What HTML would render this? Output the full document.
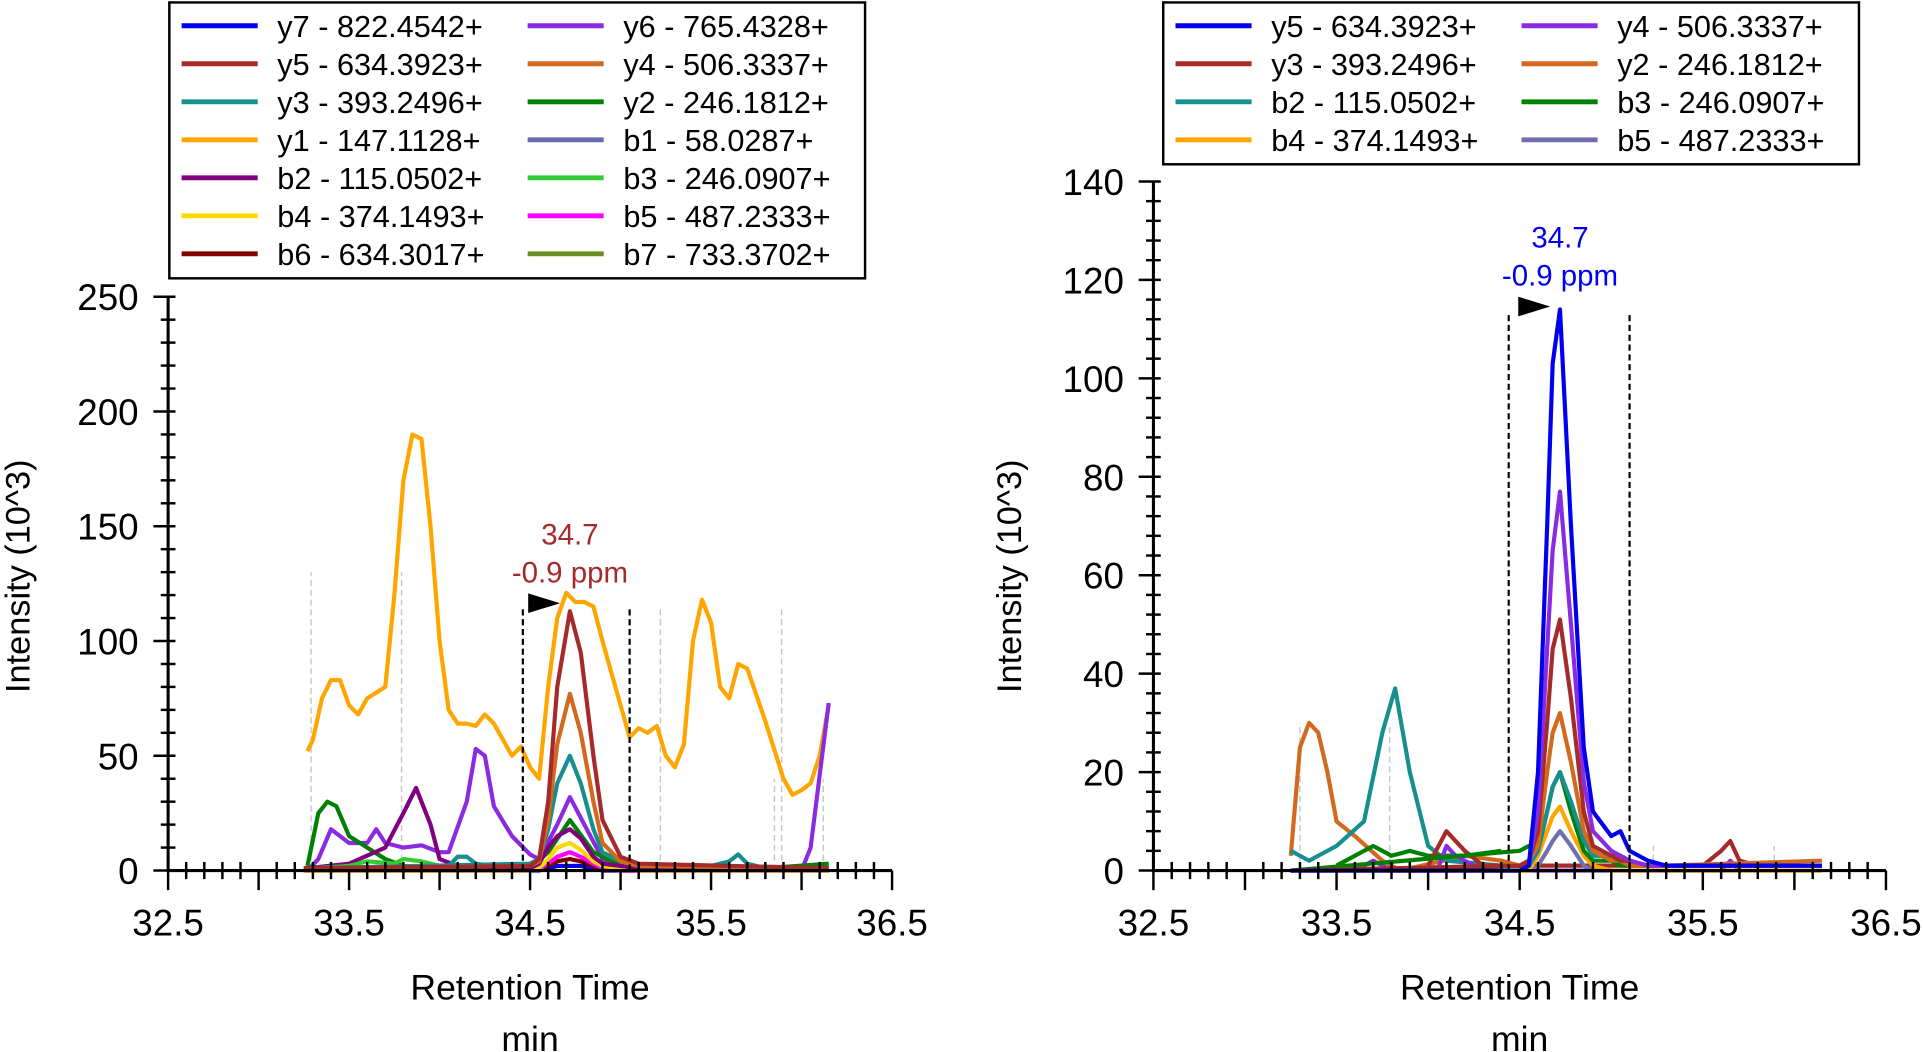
<!DOCTYPE html>
<html><head><meta charset="utf-8"><style>
html,body{margin:0;padding:0;background:#fff;}
svg{display:block;font-family:"Liberation Sans",Arial,sans-serif;}
</style></head><body>
<svg id="c" width="1924" height="1052" viewBox="0 0 1568 858" preserveAspectRatio="none" xmlns="http://www.w3.org/2000/svg"></svg>
<script>
// ---------- LEFT CHART DATA ----------
const L_y1_t=[33.27,33.3,33.35,33.4,33.45,33.5,33.55,33.6,33.7,33.75,33.8,33.85,33.9,33.95,34.0,34.05,34.1,34.15,34.2,34.25,34.3,34.35,34.4,34.45,34.5,34.55,34.6,34.65,34.7,34.75,34.8,34.85,34.9,35.0,35.05,35.1,35.15,35.2,35.25,35.3,35.35,35.4,35.45,35.5,35.55,35.6,35.65,35.7,35.8,35.9,35.95,36.0,36.05,36.1,36.15];
const L_y1_v=[52,57,75,83,83,72,68,75,80,120,170,190,188,150,100,70,64,64,63,68,64,57,50,54,45,40,80,110,121,117,117,115,100,72,58,62,60,63,50,45,55,100,118,108,80,75,90,88,65,40,33,35,38,50,72];
const L_pk_t=[33.25,34.5,34.55,34.6,34.65,34.72,34.78,34.85,34.9,35.0,35.1,36.15];
const L_y5_v=[1,2,5,30,80,113,95,50,22,6,3,1];
const L_y4_v=[1,2,4,22,55,77,60,30,12,4,2,1];
const L_y3_v=[1,3,5,18,38,50,38,18,8,4,2,1];
const L_b2pk_v=[1,1,3,10,15,18,14,6,3,2,1,1];
const L_b4_v=[0,0,1,5,10,12,9,4,2,1,0,0];
const L_b5_v=[0,0,1,3,6,8,6,3,1,0,0,0];
const L_b6_v=[0,0,1,2,4,5,4,2,1,0,0,0];
const L_y7_v=[0,0,0,1,2,2,2,1,0,0,0,0];
const L_y6_t=[33.27,33.33,33.4,33.5,33.6,33.65,33.7,33.8,33.9,34.0,34.05,34.15,34.2,34.25,34.3,34.4,34.5,34.55,34.65,34.72,34.8,34.9,35.0,35.5,36.0,36.05,36.15];
const L_y6_v=[0,5,18,12,12,18,12,10,11,8,8,30,53,50,28,15,7,5,20,32,20,5,2,1,0,10,73];
const L_y2_t=[33.27,33.33,33.38,33.43,33.5,33.6,33.7,33.8,34.0,34.5,34.6,34.72,34.85,35.0,35.5,35.8,36.15];
const L_y2_v=[2,25,30,28,15,10,5,2,1,1,8,22,8,2,1,1,3];
const L_b2_t=[33.27,33.5,33.7,33.8,33.87,33.95,34.0,34.1];
const L_b2_v=[1,3,10,25,36,20,5,2];
const L_teal_t=[34.05,34.1,34.15,34.2,34.3,35.5,35.6,35.65,35.7,35.8];
const L_teal_v=[2,6,6,3,2,2,4,7,3,1];
const L_b3_t=[33.3,33.5,33.6,33.75,33.8,33.9,34.0,34.2];
const L_b3_v=[1,2,4,3,5,4,2,1];
// ---------- RIGHT CHART DATA ----------
const R_pk_t=[33.25,34.5,34.55,34.6,34.65,34.68,34.72,34.78,34.85,34.9,35.0,35.05,35.1,35.2,35.3,36.15];
const R_y5_v=[0,0,1,20,70,103,114,70,25,12,7,8,4,2,1,1];
const R_y4_v=[0,0,1,12,45,65,77,50,18,8,4,3,2,1,1,1];
const R_y3_v=[0,1,2,8,30,45,51,35,12,5,3,2,2,1,1,1];
const R_y2_v=[0,1,2,5,20,28,32,22,8,4,2,2,1,1,1,2];
const R_b2pk_v=[0,1,1,4,12,17,20,14,6,3,3,3,2,1,1,1];
const R_b3pk_v=[0,4,5,4,12,17,20,12,4,2,2,1,1,1,1,1];
const R_b4_v=[0,0,0,3,8,11,13,8,3,1,0,0,0,0,0,0];
const R_b5_v=[0,0,0,1,4,6,8,5,1,0,0,0,0,0,0,0];
const R_y2e_t=[33.25,33.3,33.35,33.4,33.45,33.5,33.6,33.75,33.85,34.2,34.4,34.5];
const R_y2e_v=[3,25,30,28,20,10,7,2,0,3,2,1];
const R_b2e_t=[33.25,33.35,33.5,33.65,33.75,33.82,33.9,34.0,34.1,34.4];
const R_b2e_v=[4,2,5,10,28,37,20,5,2,1];
const R_y3e_t=[34.0,34.1,34.2,34.3,35.5,35.6,35.65,35.7,35.8];
const R_y3e_v=[1,8,4,1,1,4,6,2,1];
const R_b3e_t=[33.5,33.7,33.8,33.9,34.0,34.2,34.4];
const R_b3e_v=[1,5,3,4,3,3,4];
const R_y4e_t=[33.6,33.7,33.8,34.05,34.1,34.15,34.3,35.6,35.65,35.7];
const R_y4e_v=[0,2,0,0,5,3,0,0,2,0];

const svg=document.getElementById('c');
const NS='http://www.w3.org/2000/svg';
function mk(tag,attrs,parent){const e=document.createElementNS(NS,tag);for(const k in attrs)e.setAttribute(k,attrs[k]);(parent||svg).appendChild(e);return e;}

function chart(o){
  const g=mk('g',{});
  
  
  const X=t=>o.x0+(t-32.5)/4*(o.x1-o.x0);
  const Y=v=>o.y0-v/o.ymax*(o.y0-o.y1);
  o.gray.forEach(gl=>{const l=mk('line',{x1:X(gl[0]),x2:X(gl[0]),y1:o.y0,y2:Y(gl[1]),stroke:'#c8c8c8','stroke-width':1.2,'stroke-dasharray':'5,3'},g);
    });
  o.series.forEach(s=>{const p=mk('polyline',{points:s.t.map((t,i)=>X(t)+','+Y(s.v[i])).join(' '),fill:'none',stroke:s.c,'stroke-width':3.4,'stroke-linejoin':'round'},g);
    });
  o.bounds.forEach(b=>{const l=mk('line',{x1:X(b),x2:X(b),y1:o.y0,y2:o.by,stroke:'#000','stroke-width':1.8,'stroke-dasharray':'5,3'},g);
    });
  const ax=mk('path',{d:`M${o.x0},${o.y1}V${o.y0}H${o.x1}`,stroke:'#000','stroke-width':2.5,fill:'none'},g);
  
  for(let t=32.5;t<=36.501;t+=0.1){const maj=Math.abs((t-32.5)/0.5-Math.round((t-32.5)/0.5))<0.01;
    mk('line',{x1:X(t),x2:X(t),y1:o.y0-(maj?0:7),y2:o.y0+(maj?16:7),stroke:'#000','stroke-width':2},g);}
  ['32.5','33.5','34.5','35.5','36.5'].forEach(s=>{const tx=mk('text',{x:X(+s),y:o.y0+53,'font-size':30,'text-anchor':'middle'},g);tx.textContent=s;
    });
  for(let v=0;v<=o.ymax+0.001;v+=o.minor){const maj=Math.abs(v/o.major-Math.round(v/o.major))<0.01;
    mk('line',{x1:o.x0-(maj?12:6),x2:o.x0+6,y1:Y(v),y2:Y(v),stroke:'#000','stroke-width':2},g);}
  for(let v=0;v<=o.ymax+0.001;v+=o.major){const tx=mk('text',{x:o.x0-24,y:Y(v)+11,'font-size':30,'text-anchor':'end'},g);tx.textContent=v;
    }
  const yt=mk('text',{x:0,y:0,'font-size':28,'text-anchor':'middle',transform:`translate(${o.ytx},470) rotate(-90)`},g);yt.textContent='Intensity (10^3)';
  
  const xt=mk('text',{x:(o.x0+o.x1)/2,y:815,'font-size':29,'text-anchor':'middle'},g);xt.textContent='Retention Time';
  
  const xu=mk('text',{x:(o.x0+o.x1)/2,y:857,'font-size':29,'text-anchor':'middle'},g);xu.textContent='min';
  
  const a1=mk('text',{x:X(34.72),y:o.ay,'font-size':24,'text-anchor':'middle',fill:o.ac},g);a1.textContent='34.7';
  
  const a2=mk('text',{x:X(34.72),y:o.ay+31,'font-size':24,'text-anchor':'middle',fill:o.ac},g);a2.textContent='-0.9 ppm';
  
  const cx=X(34.72);
  const tri=mk('polygon',{points:`${cx-34},${o.ay+40} ${cx-8},${o.ay+48} ${cx-34},${o.ay+56}`,fill:'#000'},g);
  
  const lg=mk('g',{},g);
  const rows=Math.ceil(o.legend.length/2);
  mk('rect',{x:o.lx,y:2,width:567,height:rows*31+8,fill:'#fff',stroke:'#000','stroke-width':2},lg);
  o.legend.forEach((e,i)=>{const col=i%2,row=Math.floor(i/2);const bx=o.lx+10+col*(o.colw),y=21+row*31;
    const it=mk('g',{},lg);
    mk('line',{x1:bx,x2:bx+62,y1:y,y2:y,stroke:e[1],'stroke-width':4},it);
    const tx=mk('text',{x:bx+78,y:y+9,'font-size':25},it);tx.textContent=e[0];});
}

const LC={y7:'#0000ee',y5:'#a52a2a',y3:'#178f8f',y1:'#ffa500',b2:'#800080',b4:'#ffd700',b6:'#800000',y6:'#8a2be2',y4:'#d2691e',y2:'#008000',b1:'#6a6ab0',b3:'#32cd32',b5:'#ff00ff',b7:'#6b8e23'};
chart({name:'left-chart',x0:137,x1:727,y0:710,y1:242,ymax:250,major:50,minor:10,ytx:24,lx:138,colw:282,
 by:495,bounds:[34.46,35.05],ay:444,ac:'#a52a2a',
 gray:[[33.29,130],[33.79,130],[35.22,115],[35.85,40],[35.89,115],[36.12,40]],
 series:[
  {n:'y1',c:LC.y1,t:L_y1_t,v:L_y1_v},{n:'y6',c:LC.y6,t:L_y6_t,v:L_y6_v},{n:'y2',c:LC.y2,t:L_y2_t,v:L_y2_v},
  {n:'b2-early',c:LC.b2,t:L_b2_t,v:L_b2_v},{n:'b3',c:LC.b3,t:L_b3_t,v:L_b3_v},{n:'y3-side',c:LC.y3,t:L_teal_t,v:L_teal_v},
  {n:'y7',c:LC.y7,t:L_pk_t,v:L_y7_v},{n:'b6',c:LC.b6,t:L_pk_t,v:L_b6_v},{n:'b5',c:LC.b5,t:L_pk_t,v:L_b5_v},
  {n:'b4',c:LC.b4,t:L_pk_t,v:L_b4_v},{n:'b2',c:LC.b2,t:L_pk_t,v:L_b2pk_v},{n:'y3',c:LC.y3,t:L_pk_t,v:L_y3_v},
  {n:'y4',c:LC.y4,t:L_pk_t,v:L_y4_v},{n:'y5',c:LC.y5,t:L_pk_t,v:L_y5_v}],
 legend:[['y7 - 822.4542+',LC.y7],['y6 - 765.4328+',LC.y6],['y5 - 634.3923+',LC.y5],['y4 - 506.3337+',LC.y4],
  ['y3 - 393.2496+',LC.y3],['y2 - 246.1812+',LC.y2],['y1 - 147.1128+',LC.y1],['b1 - 58.0287+',LC.b1],
  ['b2 - 115.0502+',LC.b2],['b3 - 246.0907+',LC.b3],['b4 - 374.1493+',LC.b4],['b5 - 487.2333+',LC.b5],
  ['b6 - 634.3017+',LC.b6],['b7 - 733.3702+',LC.b7]]});

const RC={y5:'#0000ee',y4:'#8a2be2',y3:'#a52a2a',y2:'#d2691e',b2:'#178f8f',b3:'#008000',b4:'#ffa500',b5:'#7070b0'};
chart({name:'right-chart',x0:940,x1:1537,y0:710,y1:148,ymax:140,major:20,minor:4,ytx:832,lx:948,colw:282,
 by:255,bounds:[34.44,35.1],ay:202,ac:'#0000ee',
 gray:[[33.3,30],[33.79,30],[35.23,5],[35.89,5]],
 series:[
  {n:'y2-early',c:RC.y2,t:R_y2e_t,v:R_y2e_v},{n:'b2-early',c:RC.b2,t:R_b2e_t,v:R_b2e_v},{n:'b3-early',c:RC.b3,t:R_b3e_t,v:R_b3e_v},
  {n:'y3-side',c:RC.y3,t:R_y3e_t,v:R_y3e_v},{n:'y4-side',c:RC.y4,t:R_y4e_t,v:R_y4e_v},
  {n:'b5',c:RC.b5,t:R_pk_t,v:R_b5_v},{n:'b4',c:RC.b4,t:R_pk_t,v:R_b4_v},{n:'b3',c:RC.b3,t:R_pk_t,v:R_b3pk_v},
  {n:'b2',c:RC.b2,t:R_pk_t,v:R_b2pk_v},{n:'y2',c:RC.y2,t:R_pk_t,v:R_y2_v},{n:'y3',c:RC.y3,t:R_pk_t,v:R_y3_v},
  {n:'y4',c:RC.y4,t:R_pk_t,v:R_y4_v},{n:'y5',c:RC.y5,t:R_pk_t,v:R_y5_v}],
 legend:[['y5 - 634.3923+',RC.y5],['y4 - 506.3337+',RC.y4],['y3 - 393.2496+',RC.y3],['y2 - 246.1812+',RC.y2],
  ['b2 - 115.0502+',RC.b2],['b3 - 246.0907+',RC.b3],['b4 - 374.1493+',RC.b4],['b5 - 487.2333+',RC.b5]]});
</script>
</body></html>
